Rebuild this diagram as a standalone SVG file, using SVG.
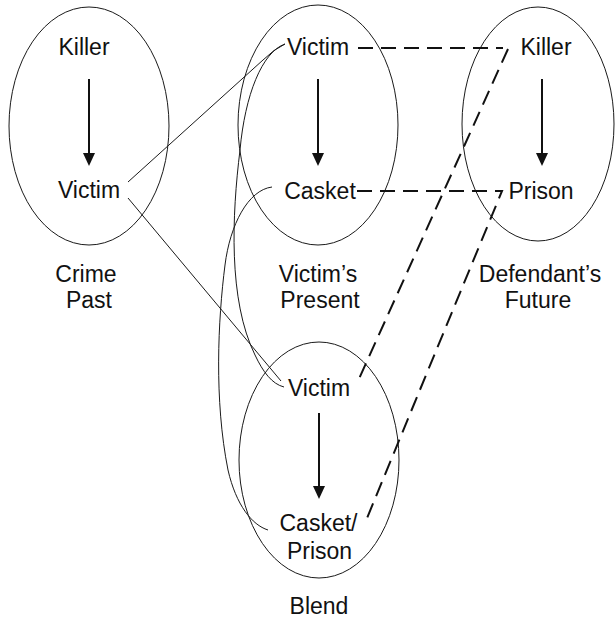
<svg xmlns="http://www.w3.org/2000/svg" width="615" height="618" viewBox="0 0 615 618">
  <defs>
    <style>
      .space { fill: none; stroke: #1a1a1a; stroke-width: 1; }
      .lbl { font-family: "Liberation Sans", Arial, sans-serif; font-size: 23px; fill: #111; text-anchor: middle; }
      .link { fill: none; stroke: #1a1a1a; stroke-width: 1; }
      .dash { fill: none; stroke: #111; stroke-width: 2; stroke-dasharray: 15 8; }
      .arrow { fill: none; stroke: #111; stroke-width: 2; }
      .head { fill: #111; stroke: none; }
    </style>
  </defs>
  <rect width="615" height="618" fill="#ffffff"/>

  <!-- Mental spaces -->
  <g id="space-crime-past">
    <ellipse class="space" cx="89" cy="126" rx="80" ry="119"/>
    <text class="lbl" x="86" y="282">Crime</text>
    <text class="lbl" x="89" y="308">Past</text>
  </g>
  <g id="space-victims-present">
    <ellipse class="space" cx="318" cy="125" rx="80" ry="120"/>
    <text class="lbl" x="318" y="282">Victim’s</text>
    <text class="lbl" x="320" y="308">Present</text>
  </g>
  <g id="space-defendants-future">
    <ellipse class="space" cx="538" cy="124" rx="76" ry="117"/>
    <text class="lbl" x="540" y="282">Defendant’s</text>
    <text class="lbl" x="538" y="308">Future</text>
  </g>
  <g id="space-blend">
    <ellipse class="space" cx="319" cy="460" rx="80" ry="118"/>
    <text class="lbl" x="319" y="614">Blend</text>
  </g>

  <!-- Elements -->
  <g id="past-killer"><text class="lbl" x="84" y="55">Killer</text></g>
  <g id="past-victim"><text class="lbl" x="89" y="198">Victim</text></g>
  <g id="present-victim"><text class="lbl" x="318" y="55">Victim</text></g>
  <g id="present-casket"><text class="lbl" x="320" y="199">Casket</text></g>
  <g id="future-killer"><text class="lbl" x="546" y="55">Killer</text></g>
  <g id="future-prison"><text class="lbl" x="541" y="199">Prison</text></g>
  <g id="blend-victim"><text class="lbl" x="319" y="396">Victim</text></g>
  <g id="blend-casket-prison">
    <text class="lbl" x="318.5" y="531">Casket/</text>
    <text class="lbl" x="319.5" y="559">Prison</text>
  </g>

  <!-- Connectors -->
  <g id="connectors">
    <!-- vertical relations inside each space -->
    <line class="arrow" x1="89" y1="79" x2="89" y2="154"/>
    <polygon class="head" points="83,153 95,153 89,166"/>
    <line class="arrow" x1="318" y1="79" x2="318" y2="154"/>
    <polygon class="head" points="312,153 324,153 318,166"/>
    <line class="arrow" x1="542" y1="79" x2="542" y2="154"/>
    <polygon class="head" points="536,153 548,153 542,166"/>
    <line class="arrow" x1="319" y1="413" x2="319" y2="487"/>
    <polygon class="head" points="313,486 325,486 319,499"/>

    <!-- solid projections into the blend -->
    <path class="link" d="M128,182 L263,60 Q274,49 285,44"/>
    <path class="link" d="M128,198 L281,381"/>
    <path class="link" d="M285,44 C262,52 245,95 240,150 C232,215 228,300 255,355 C263,372 272,384 284,387"/>
    <path class="link" d="M272,187 C248,190 230,225 225,265 C218,320 214,400 228,470 C236,505 252,525 268,530"/>

    <!-- dashed projections -->
    <path class="dash" d="M358,48 H503"/>
    <path class="dash" d="M508,49 L358,381"/>
    <path class="dash" d="M357,191 H502 L365,523"/>
  </g>
</svg>
